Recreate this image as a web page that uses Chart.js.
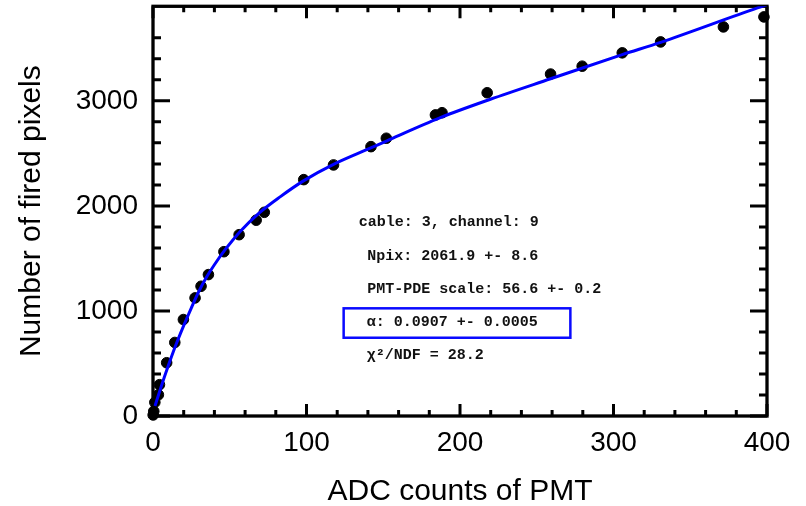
<!DOCTYPE html>
<html>
<head>
<meta charset="utf-8">
<script src="https://cdn.jsdelivr.net/npm/chart.js@4/dist/chart.umd.min.js"></script>
<style>
  html, body { margin: 0; padding: 0; background: #ffffff; }
  #wrap { position: relative; width: 806px; height: 506px; }
</style>
</head>
<body>
<div id="wrap"><canvas id="c" width="806" height="506"></canvas></div>
<script>
// ---- data ----
const adcCounts   = [0.1, 0.5, 1.2, 3.5, 4.2, 8.9, 14.2, 19.8, 27.4, 31.3, 36.1, 46.2, 56.1, 67.2, 72.5, 98.2, 117.6, 142, 152, 184, 188.3, 217.7, 259, 279.6, 305.7, 330.7, 371.6, 398];
const firedPixels = [10, 45, 130, 202, 298, 507, 700, 918, 1124, 1235, 1346, 1564, 1726, 1864, 1939, 2250, 2390, 2564, 2644, 2866, 2887, 3077, 3255, 3330, 3457, 3561, 3704, 3799];

const fitAdc    = [1.3, 5, 10, 15, 20, 25, 30, 35, 40, 47, 56.8, 68.7, 82.8, 98, 117.6, 141.5, 152.4, 187.2, 219.8, 259, 305.7, 330.7, 393.8, 400];
const fitPixels = [95, 265, 480, 680, 860, 1030, 1190, 1325, 1440, 1583, 1757, 1927, 2086, 2238, 2395, 2549, 2620, 2840, 3015, 3210, 3440, 3557, 3885, 3915];

const xMajorTicks = [0, 100, 200, 300, 400];
const yMajorTicks = [0, 1000, 2000, 3000];

const xTitle = 'ADC counts of PMT';
const yTitle = 'Number of fired pixels';

const infoLines = [
  'cable: 3, channel: 9',
  'Npix: 2061.9 +- 8.6',
  'PMT-PDE scale: 56.6 +- 0.2',
  '\u03B1: 0.0907 +- 0.0005',
  '\u03C7\u00B2/NDF = 28.2'
];

// ---- chart ----
const pointsData = adcCounts.map((x, i) => ({ x: x, y: firedPixels[i] }));
const fitData = fitAdc.map((x, i) => ({ x: x, y: fitPixels[i] }));

const frameTicks = {
  id: 'frameTicks',
  beforeDatasetsDraw(chart) {
    const { ctx, chartArea: a, scales } = chart;
    ctx.save();
    ctx.strokeStyle = '#000';
    ctx.lineWidth = 3;
    ctx.lineCap = 'butt';
    ctx.beginPath();
    scales.x.ticks.forEach(t => {
      if (t.value % 20 !== 0) return;
      const px = scales.x.getPixelForValue(t.value);
      const len = xMajorTicks.includes(t.value) ? 12 : 6;
      ctx.moveTo(px, a.bottom); ctx.lineTo(px, a.bottom - len);
      ctx.moveTo(px, a.top); ctx.lineTo(px, a.top + len);
    });
    scales.y.ticks.forEach(t => {
      if (t.value % 200 !== 0) return;
      const py = scales.y.getPixelForValue(t.value);
      const len = yMajorTicks.includes(t.value) ? 17 : 8;
      ctx.moveTo(a.left, py); ctx.lineTo(a.left + len, py);
      ctx.moveTo(a.right, py); ctx.lineTo(a.right - len, py);
    });
    ctx.stroke();
    ctx.lineWidth = 3.3;
    ctx.strokeRect(a.left, a.top, a.right - a.left, a.bottom - a.top);
    ctx.restore();
  },
  afterDatasetsDraw(chart) {
    const { ctx, scales } = chart;
    const xs = scales.x, ys = scales.y;
    ctx.save();
    ctx.fillStyle = '#111';
    ctx.font = 'bold 15px "Liberation Mono", "Courier New", monospace';
    ctx.textBaseline = 'middle';
    ctx.textAlign = 'left';
    const lineX = [134, 139.5, 139.5, 139.3, 139.3];
    const lineY = [1840, 1517, 1203, 890, 577];
    infoLines.forEach((s, i) => {
      ctx.fillText(s, xs.getPixelForValue(lineX[i]), ys.getPixelForValue(lineY[i]));
    });
    const bx0 = xs.getPixelForValue(124.2), bx1 = xs.getPixelForValue(271.9);
    const by0 = ys.getPixelForValue(1025), by1 = ys.getPixelForValue(745);
    ctx.strokeStyle = '#0a0aff';
    ctx.lineWidth = 2.5;
    ctx.strokeRect(bx0, by0, bx1 - bx0, by1 - by0);
    ctx.restore();
  }
};

new Chart(document.getElementById('c'), {
  type: 'scatter',
  data: {
    datasets: [
      {
        label: 'fit',
        data: fitData,
        showLine: true,
        borderColor: '#0000ff',
        backgroundColor: '#0000ff',
        borderWidth: 3,
        pointRadius: 0,
        cubicInterpolationMode: 'monotone',
        order: 0
      },
      {
        label: 'data',
        data: pointsData,
        showLine: false,
        backgroundColor: '#000',
        borderColor: '#000',
        borderWidth: 1,
        pointRadius: 5.3,
        clip: false,
        order: 1
      }
    ]
  },
  options: {
    responsive: false,
    animation: false,
    devicePixelRatio: 1,
    layout: { padding: { left: 0, top: 6, right: 39, bottom: 0 } },
    plugins: {
      legend: { display: false },
      tooltip: { enabled: false },
      title: { display: false }
    },
    scales: {
      x: {
        type: 'linear',
        min: 0,
        max: 400,
        grid: { display: false, drawTicks: false },
        border: { display: false },
        ticks: {
          stepSize: 20,
          autoSkip: false,
          maxRotation: 0,
          padding: 10,
          color: '#000',
          font: { family: '"Liberation Sans", Arial, sans-serif', size: 28 },
          callback: v => (xMajorTicks.includes(v) ? String(v) : '')
        },
        title: {
          display: true,
          text: xTitle,
          color: '#000',
          font: { family: '"Liberation Sans", Arial, sans-serif', size: 30 },
          padding: { top: 0, bottom: -4 }
        },
        afterFit(scale) {
          scale.height = 90;
          scale.paddingLeft = 0;
          scale.paddingRight = 0;
        }
      },
      y: {
        type: 'linear',
        min: 0,
        max: 3900,
        grid: { display: false, drawTicks: false },
        border: { display: false },
        ticks: {
          stepSize: 200,
          autoSkip: false,
          padding: 15,
          color: '#000',
          font: { family: '"Liberation Sans", Arial, sans-serif', size: 28 },
          callback: v => (yMajorTicks.includes(v) ? String(v) : '')
        },
        title: {
          display: true,
          text: yTitle,
          color: '#000',
          font: { family: '"Liberation Sans", Arial, sans-serif', size: 30 },
          padding: { top: 14, bottom: 0 }
        },
        afterFit(scale) {
          scale.width = 153;
          scale.paddingTop = 0;
          scale.paddingBottom = 0;
        }
      }
    }
  },
  plugins: [frameTicks]
});
</script>
</body>
</html>
